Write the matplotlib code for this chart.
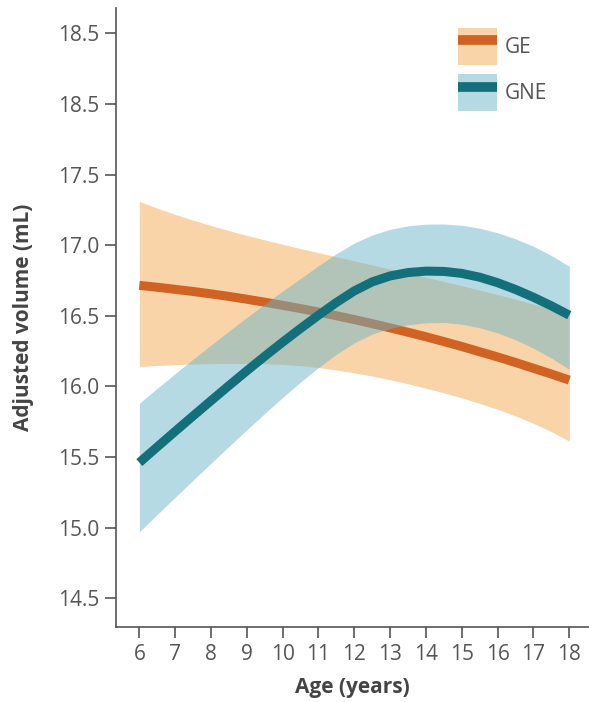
import matplotlib
matplotlib.use('Agg')
import matplotlib.pyplot as plt
import matplotlib.patches as mpatches
import matplotlib.lines as mlines
from matplotlib.legend_handler import HandlerTuple

# values (every half year)
age = [6, 6.5, 7, 7.5, 8, 8.5, 9, 9.5, 10, 10.5, 11, 11.5, 12,
       12.5, 13, 13.5, 14, 14.5, 15, 15.5, 16, 16.5, 17, 17.5, 18]

ge_mean = [16.715, 16.702, 16.687, 16.672, 16.655, 16.637, 16.617, 16.596, 16.574, 16.551, 16.526, 16.500, 16.473,
           16.444, 16.414, 16.383, 16.351, 16.317, 16.282, 16.245, 16.208, 16.169, 16.128, 16.087, 16.044]
ge_upper = [17.310, 17.262, 17.218, 17.177, 17.139, 17.103, 17.069, 17.037, 17.006, 16.976, 16.947, 16.918, 16.889,
            16.860, 16.831, 16.802, 16.773, 16.743, 16.713, 16.682, 16.650, 16.617, 16.583, 16.548, 16.512]
ge_lower = [16.140, 16.148, 16.154, 16.158, 16.161, 16.162, 16.162, 16.160, 16.155, 16.146, 16.133, 16.116, 16.096,
            16.073, 16.047, 16.018, 15.987, 15.954, 15.918, 15.879, 15.837, 15.790, 15.738, 15.679, 15.612]

gne_mean = [15.460, 15.571, 15.681, 15.790, 15.898, 16.005, 16.110, 16.213, 16.313, 16.410, 16.504, 16.594, 16.676,
            16.740, 16.782, 16.806, 16.816, 16.814, 16.800, 16.773, 16.734, 16.686, 16.631, 16.570, 16.504]
gne_upper = [15.880, 15.986, 16.090, 16.192, 16.292, 16.391, 16.488, 16.583, 16.675, 16.764, 16.855, 16.940, 17.015,
             17.072, 17.112, 17.137, 17.149, 17.150, 17.141, 17.120, 17.088, 17.045, 16.992, 16.927, 16.850]
gne_lower = [14.970, 15.092, 15.214, 15.335, 15.455, 15.574, 15.692, 15.808, 15.921, 16.030, 16.133, 16.227, 16.308,
             16.370, 16.411, 16.436, 16.450, 16.452, 16.440, 16.415, 16.378, 16.330, 16.270, 16.200, 16.120]

x_ticks = [6, 7, 8, 9, 10, 11, 12, 13, 14, 15, 16, 17, 18]
y_ticks = [14.5, 15.0, 15.5, 16.0, 16.5, 17.0, 17.5, 18.0, 18.5]
# the original labels the top two ticks both as 18.5
y_tick_labels = ['14.5', '15.0', '15.5', '16.0', '16.5', '17.0', '17.5', '18.5', '18.5']

ORANGE_BAND = '#F9D4A9'
ORANGE_LINE = '#D06224'
TEAL_BAND = '#68B5C8'
TEAL_LINE = '#13707A'
AXIS_GREY = '#555555'

plt.rcParams['font.family'] = ['Open Sans', 'DejaVu Sans']

fig = plt.figure(figsize=(5.89, 7.02), dpi=100)
ax = fig.add_axes([0.197, 0.1068, 0.803, 0.8818])

ax.fill_between(age, ge_lower, ge_upper, color=ORANGE_BAND, linewidth=0, zorder=1)
ax.plot(age, ge_mean, color=ORANGE_LINE, linewidth=6.5, solid_capstyle='butt', zorder=2)
ax.fill_between(age, gne_lower, gne_upper, color=TEAL_BAND, alpha=0.49, linewidth=0, zorder=3)
ax.plot(age, gne_mean, color=TEAL_LINE, linewidth=6.5, solid_capstyle='butt', zorder=4)

ax.set_xlim(5.35, 18.55)
ax.set_ylim(14.295, 18.68)

ax.set_xticks(x_ticks)
ax.set_yticks(y_ticks)
ax.set_yticklabels(y_tick_labels)

ax.spines['right'].set_visible(False)
ax.spines['top'].set_visible(False)
for side in ['left', 'bottom']:
    ax.spines[side].set_color(AXIS_GREY)
    ax.spines[side].set_linewidth(1.2)

ax.tick_params(axis='both', direction='out', length=8, width=1.2, color=AXIS_GREY,
               labelcolor='#555555', labelsize=15)
ax.tick_params(axis='x', pad=4)
ax.tick_params(axis='y', pad=4)

ax.set_xlabel('Age (years)', fontsize=15, fontweight='bold', color='#444444', labelpad=9)
ax.set_ylabel('Adjusted volume (mL)', fontsize=15, fontweight='bold', color='#444444', labelpad=17)

ge_handle = (mpatches.Patch(color=ORANGE_BAND, linewidth=0),
             mlines.Line2D([], [], color=ORANGE_LINE, linewidth=7, solid_capstyle='butt'))
gne_handle = (mpatches.Patch(color=TEAL_BAND, alpha=0.49, linewidth=0),
              mlines.Line2D([], [], color=TEAL_LINE, linewidth=7, solid_capstyle='butt'))

leg = ax.legend([ge_handle, gne_handle], ['GE', 'GNE'],
                handler_map={tuple: HandlerTuple(ndivide=1, pad=0)},
                loc='upper left', bbox_to_anchor=(458 / 589, 1 - 28 / 702),
                bbox_transform=fig.transFigure, frameon=False,
                fontsize=15, handlelength=1.87, handleheight=2.35,
                handletextpad=0.35, labelspacing=0.45, borderpad=0, borderaxespad=0)
for txt in leg.get_texts():
    txt.set_color('#555555')

fig.savefig('out.png', dpi=100)
